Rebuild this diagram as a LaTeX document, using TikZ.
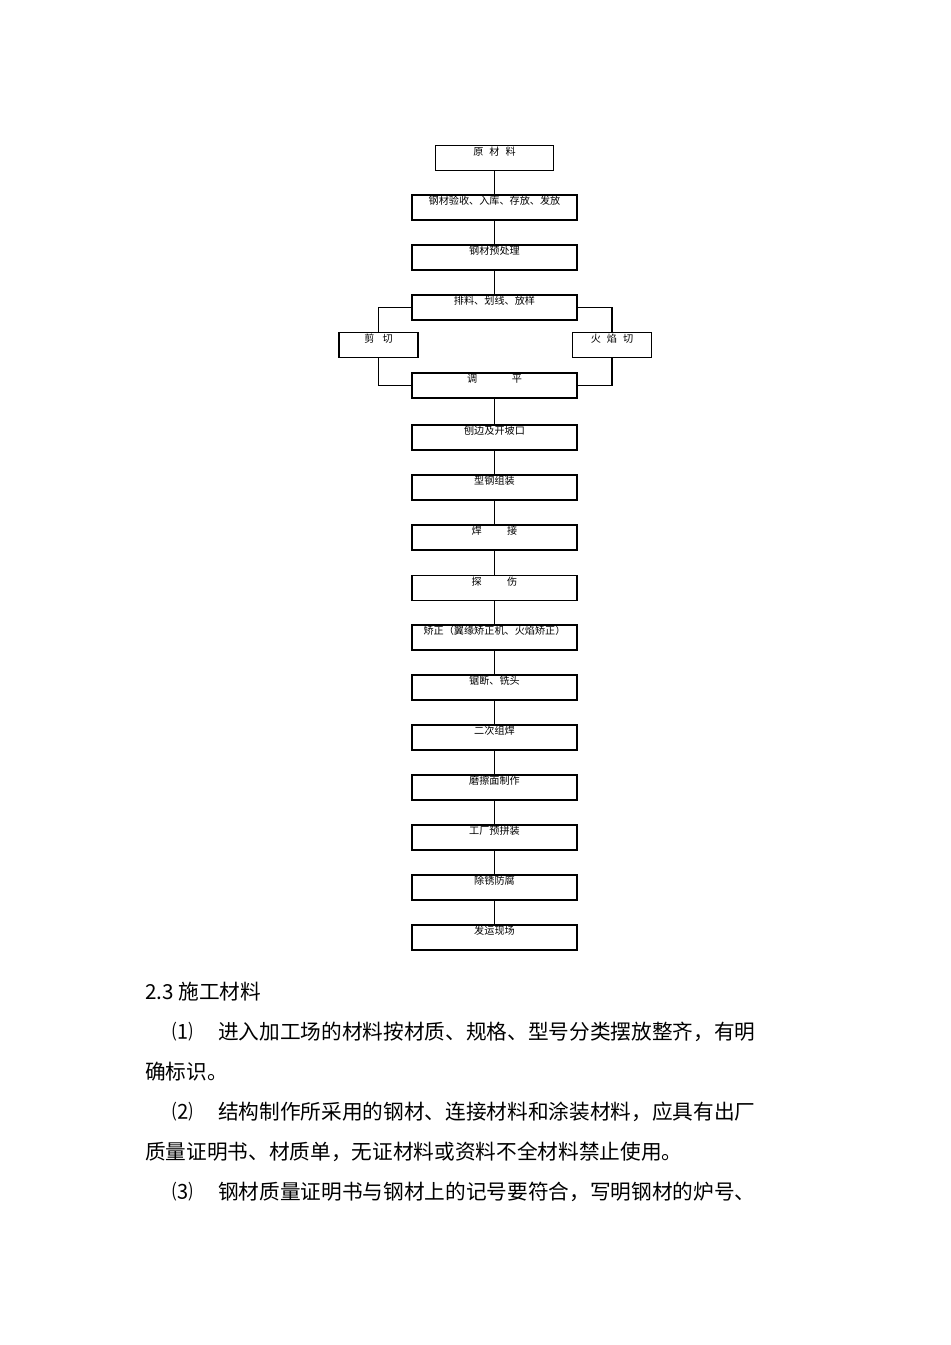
\documentclass[tikz,border=0pt]{standalone}
\usepackage{fontspec}
\setmainfont{Noto Sans CJK SC}

\begin{document}
\begin{tikzpicture}[
    x=0.75pt, y=-0.75pt, % Pixelraster des Vorbilds
    % --- Kastenstile ---
    stepBox/.style={draw, line width=0.9pt, minimum width=123.75pt, inner xsep=0pt, inner ysep=0pt, text height=7.4pt, text depth=11.35pt, font=\fontsize{7.6pt}{9pt}\selectfont},
    headBox/.style={stepBox, minimum width=88.5pt},
    sideBox/.style={stepBox, minimum width=59.25pt},
    % --- Linienstil ---
    link/.style={line width=0.8pt},
    % --- Fliesstext ---
    bodyText/.style={anchor=west, inner sep=0pt, font=\fontsize{15.5pt}{18pt}\selectfont}
]
    \useasboundingbox (0,0) rectangle (950,1345);

    % ===========================
    % 1. ABLAUFKAESTEN
    % ===========================
    \node[headBox] (Raw)      at (494.5, 158)   {原\hspace{4.5pt}材\hspace{4.5pt}料\hspace{10pt}};
    \node[stepBox] (Recv)     at (494.5, 207.5) {钢材验收、入库、存放、发放\hspace{9pt}};
    \node[stepBox] (Prep)     at (494.5, 257.5) {钢材预处理\hspace{3pt}};
    \node[stepBox] (Mark)     at (494.5, 307.5) {排料、划线、放样\hspace{38pt}};

    \node[sideBox] (Shear)    at (378.5, 345) {剪\hspace{6pt}切\hspace{14pt}};
    \node[sideBox] (Flame)    at (612, 345)   {火\hspace{4.5pt}焰\hspace{4.5pt}切\hspace{7.5pt}};

    \node[stepBox] (Level)    at (494.5, 385.5) {调\hspace{26pt}平\hspace{10pt}};
    \node[stepBox] (Edge)     at (494.5, 437.5) {刨边及开坡口\hspace{17pt}};
    \node[stepBox] (Assy)     at (494.5, 487.5) {型钢组装\hspace{18pt}};
    \node[stepBox] (Weld)     at (494.5, 537.5) {焊\hspace{19pt}接\hspace{15.5pt}};
    \node[stepBox] (Check)    at (494.5, 588)   {探\hspace{19pt}伤\hspace{14pt}};
    \node[stepBox] (Straight) at (494.5, 637.5) {矫正（翼缘矫正机、火焰矫正）};
    \node[stepBox] (Cut)      at (494.5, 687.5) {锯断、铣头\hspace{8pt}};
    \node[stepBox] (Reweld)   at (494.5, 737.5) {二次组焊\hspace{13pt}};
    \node[stepBox] (Fric)     at (494.5, 787.5) {磨擦面制作\hspace{7pt}};
    \node[stepBox] (PreAsm)   at (494.5, 837.5) {工厂预拼装\hspace{7pt}};
    \node[stepBox] (Paint)    at (494.5, 887.5) {除锈防腐\hspace{13pt}};
    \node[stepBox] (Ship)     at (494.5, 937.5) {发运现场\hspace{13pt}};

    % ===========================
    % 2. VERBINDUNGEN
    % ===========================
    \draw[link] (Raw) -- (Recv);
    \draw[link] (Recv) -- (Prep);
    \draw[link] (Prep) -- (Mark);

    % Verzweigung: Schneiden links und rechts
    \draw[link] (Mark.west) -| (Shear.north);
    \draw[link] (Mark.east) -| (Flame.north);
    \draw[link] (Shear.south) |- (Level.west);
    \draw[link] (Flame.south) |- (Level.east);

    \draw[link] (Level) -- (Edge);
    \draw[link] (Edge) -- (Assy);
    \draw[link] (Assy) -- (Weld);
    \draw[link] (Weld) -- (Check);
    \draw[link] (Check) -- (Straight);
    \draw[link] (Straight) -- (Cut);
    \draw[link] (Cut) -- (Reweld);
    \draw[link] (Reweld) -- (Fric);
    \draw[link] (Fric) -- (PreAsm);
    \draw[link] (PreAsm) -- (Paint);
    \draw[link] (Paint) -- (Ship);

    % ===========================
    % 3. TEXT UNTER DEM DIAGRAMM
    % ===========================
    \node[bodyText] (Sec)    at (145, 992)  {2.3 施工材料};
    \node[bodyText] (ItemA)  at (172, 1032) {⑴\hspace{19pt}进入加工场的材料按材质、规格、型号分类摆放整齐，有明};
    \node[bodyText] (ItemAb) at (145, 1072) {确标识。};
    \node[bodyText] (ItemB)  at (172, 1112) {⑵\hspace{19pt}结构制作所采用的钢材、连接材料和涂装材料，应具有出厂};
    \node[bodyText] (ItemBb) at (145, 1152) {质量证明书、材质单，无证材料或资料不全材料禁止使用。};
    \node[bodyText] (ItemC)  at (172, 1192) {⑶\hspace{19pt}钢材质量证明书与钢材上的记号要符合，写明钢材的炉号、};

\end{tikzpicture}
\end{document}
